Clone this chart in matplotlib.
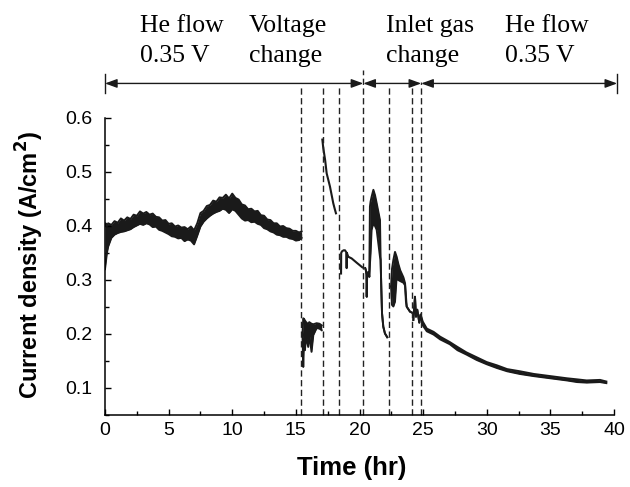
import numpy as np
import matplotlib
matplotlib.use("Agg")
import matplotlib.pyplot as plt

# -----------------------------
# data (time in hr, current density in A/cm2)
# noisy parts are stored as lower / upper envelope of the trace
# -----------------------------
# He flow, 0.35 V
t_a = [0.0, 0.05, 0.15, 0.25, 0.5, 0.75, 1.0, 1.25, 1.5, 1.75, 2.0, 2.25, 2.5, 2.75,
       3.0, 3.25, 3.5, 3.75, 4.0, 4.25, 4.5, 4.75, 5.0, 5.25, 5.5, 5.75, 6.0, 6.25,
       6.5, 6.75, 7.0, 7.25, 7.5, 7.75, 8.0, 8.25, 8.5, 8.75, 9.0, 9.25, 9.5, 9.75,
       10.0, 10.25, 10.5, 10.75, 11.0, 11.25, 11.5, 11.75, 12.0, 12.25, 12.5, 12.75,
       13.0, 13.25, 13.5, 13.75, 14.0, 14.25, 14.5, 14.75, 15.0, 15.25, 15.45]
hi_a = [0.40, 0.405, 0.40, 0.405, 0.402, 0.409, 0.406, 0.414, 0.410, 0.416, 0.413, 0.421, 0.419, 0.427,
        0.423, 0.426, 0.421, 0.423, 0.417, 0.416, 0.410, 0.411, 0.404, 0.405, 0.399, 0.401, 0.397, 0.398,
        0.394, 0.399, 0.392, 0.405, 0.424, 0.428, 0.437, 0.439, 0.447, 0.445, 0.453, 0.452, 0.458, 0.451,
        0.460, 0.452, 0.449, 0.440, 0.438, 0.431, 0.432, 0.427, 0.428, 0.420, 0.419, 0.412,
        0.411, 0.405, 0.405, 0.399, 0.400, 0.396, 0.395, 0.391, 0.391, 0.388, 0.390]
lo_a = [0.32, 0.33, 0.35, 0.362, 0.378, 0.384, 0.387, 0.389, 0.390, 0.392, 0.394, 0.398, 0.401, 0.404,
        0.402, 0.405, 0.403, 0.398, 0.399, 0.393, 0.391, 0.388, 0.385, 0.381, 0.380, 0.377, 0.378, 0.372,
        0.375, 0.373, 0.366, 0.382, 0.399, 0.408, 0.414, 0.419, 0.423, 0.426, 0.428, 0.432, 0.430, 0.424,
        0.431, 0.428, 0.421, 0.414, 0.410, 0.411, 0.407, 0.408, 0.404, 0.402, 0.396, 0.394,
        0.390, 0.388, 0.384, 0.383, 0.380, 0.380, 0.377, 0.376, 0.373, 0.374, 0.378]

# voltage change steps
t_b = [15.52, 15.58, 15.64, 15.71, 15.8, 15.97, 16.05, 16.23, 16.37, 16.63, 16.85, 17.03]
hi_b = [0.20, 0.229, 0.228, 0.225, 0.222, 0.218, 0.222, 0.219, 0.218, 0.220, 0.219, 0.216]
lo_b = [0.20, 0.139, 0.19, 0.170, 0.195, 0.176, 0.20, 0.167, 0.198, 0.211, 0.21, 0.207]

t_c = [17.08, 17.15, 17.3, 17.42, 17.68, 17.94, 18.05, 18.15]
v_c = [0.56, 0.545, 0.522, 0.4975, 0.473, 0.442, 0.432, 0.4235]

t_d = [18.55, 18.56, 18.62, 18.75, 18.86, 18.97, 18.99, 19.01, 19.12, 19.38, 19.78, 20.22]
v_d = [0.312, 0.35, 0.353, 0.355, 0.355, 0.351, 0.322, 0.35, 0.343, 0.340, 0.332, 0.3235]

# inlet gas change
t_e = [20.45, 20.5, 20.55, 20.57, 20.6, 20.7, 20.77, 20.82, 20.87, 20.95, 21.09, 21.22,
       21.35, 21.48, 21.61, 21.66, 21.71, 21.77, 21.87, 22.0, 22.18]
hi_e = [0.322, 0.318, 0.31, 0.269, 0.31, 0.315, 0.306, 0.436, 0.445, 0.454, 0.467, 0.457,
        0.442, 0.4265, 0.411, 0.337, 0.288, 0.2383, 0.2135, 0.201, 0.194]
lo_e = [0.322, 0.318, 0.31, 0.269, 0.31, 0.315, 0.306, 0.33, 0.349, 0.393, 0.405, 0.40,
        0.393, 0.368, 0.343, 0.337, 0.288, 0.2383, 0.2135, 0.201, 0.194]

t_f = [22.48, 22.55, 22.66, 22.79, 22.92, 23.05, 23.2, 23.45, 23.58, 23.65, 23.71, 23.97, 24.18]
hi_f = [0.288, 0.32, 0.337, 0.352, 0.343, 0.33, 0.318, 0.305, 0.294, 0.27, 0.2506, 0.2413, 0.239]
lo_f = [0.288, 0.254, 0.251, 0.26, 0.306, 0.30, 0.298, 0.295, 0.29, 0.26, 0.2506, 0.2413, 0.239]

# He flow, 0.35 V
t_g = [24.23, 24.36, 24.44, 24.54, 24.7, 24.8, 24.97, 25.29, 25.82, 26.34, 27.1, 27.7, 28.4,
       29.2, 30.0, 30.8, 31.6, 32.6, 33.7, 35.0, 36.3, 37.1, 37.85, 38.9, 39.4]
hi_g = [0.226, 0.269, 0.232, 0.245, 0.221, 0.236, 0.223, 0.21, 0.204, 0.195, 0.185, 0.176, 0.166,
        0.157, 0.148, 0.142, 0.135, 0.131, 0.126, 0.122, 0.118, 0.116, 0.114, 0.115, 0.112]
lo_g = [0.226, 0.269, 0.232, 0.245, 0.221, 0.236, 0.216, 0.205, 0.199, 0.19, 0.181, 0.170, 0.162,
        0.152, 0.144, 0.137, 0.131, 0.126, 0.122, 0.118, 0.114, 0.111, 0.110, 0.111, 0.109]

# event markers
t_events = [15.4, 17.1, 18.4, 20.3, 22.3, 24.15, 24.85]
event_tops = [0.661, 0.661, 0.661, 0.689, 0.658, 0.658, 0.667]

phase_edges = [0.0, 20.3, 24.85, 40.25]
phase_labels = [("He flow", "0.35 V"), ("Voltage", "change"),
                ("Inlet gas", "change"), ("He flow", "0.35 V")]
label_x_px = [140, 249, 386, 505]

# -----------------------------
# figure
# -----------------------------
W, H = 630, 487
fig = plt.figure(figsize=(W / 100, H / 100), dpi=100)
ax = fig.add_axes([105 / W, 1 - 415 / H, 509 / W, 297 / H])

sans = "Liberation Sans"
serif = "Liberation Serif"
ink = "#1a1a1a"

for t, lo, hi in [(t_a, lo_a, hi_a), (t_b, lo_b, hi_b), (t_e, lo_e, hi_e),
                  (t_f, lo_f, hi_f), (t_g, lo_g, hi_g)]:
    ax.fill_between(t, lo, hi, color=ink, lw=0)
    ax.plot(t, hi, color=ink, lw=1.4)
    ax.plot(t, lo, color=ink, lw=1.4)
ax.plot(t_c, v_c, color=ink, lw=1.5)
ax.plot(t_d, v_d, color=ink, lw=1.5)

for te, top in zip(t_events, event_tops):
    ax.plot([te, te], [0.05, top], color="#222222", lw=1.0,
            linestyle=(0, (4.5, 2.5)), clip_on=False)

# phase arrows
y_arr = 0.664
for a, b in zip(phase_edges[:-1], phase_edges[1:]):
    ax.annotate("", xy=(b, y_arr), xytext=(a, y_arr), xycoords="data",
                annotation_clip=False,
                arrowprops=dict(arrowstyle="<|-|>,head_length=0.6,head_width=0.22",
                                color=ink, lw=1.0, shrinkA=0, shrinkB=0,
                                mutation_scale=12))
for xe in [phase_edges[0], phase_edges[-1]]:
    ax.plot([xe, xe], [0.647, 0.681], color=ink, lw=1.0, clip_on=False)

for (l1, l2), xp in zip(phase_labels, label_x_px):
    fig.text(xp / W, 1 - 32 / H, l1, family=serif, fontsize=18.5, va="baseline", ha="left")
    fig.text(xp / W, 1 - 62 / H, l2, family=serif, fontsize=18.5, va="baseline", ha="left")

ax.set_xlim(0, 40)
ax.set_ylim(0.05, 0.6)
ax.set_xticks([0, 5, 10, 15, 20, 25, 30, 35, 40])
ax.set_xticks(np.arange(2.5, 40, 5), minor=True)
ax.set_yticks([0.1, 0.2, 0.3, 0.4, 0.5, 0.6])
ax.set_yticks(np.arange(0.05, 0.6, 0.1), minor=True)
ax.tick_params(which="both", direction="in", top=False, right=False, width=1.0)
ax.tick_params(which="major", length=4)
ax.tick_params(which="minor", length=3)
ax.tick_params(axis="x", pad=5)
ax.tick_params(axis="y", pad=9)
for lab in ax.get_xticklabels() + ax.get_yticklabels():
    lab.set_family(sans)
    lab.set_fontsize(14)
ax.spines["top"].set_visible(False)
ax.spines["right"].set_visible(False)
for s in ["left", "bottom"]:
    ax.spines[s].set_linewidth(1.1)

fig.text(30 / W, 1 - 265 / H, "Current density (A/cm$^\\mathbf{2}$)", family=sans,
         fontsize=17, fontweight="bold", rotation=90, ha="center", va="center")
fig.text(352 / W, 1 - 468 / H, "Time (hr)", family=sans, fontsize=18.5,
         fontweight="bold", ha="center", va="center")

fig.savefig("out.png", dpi=100)
